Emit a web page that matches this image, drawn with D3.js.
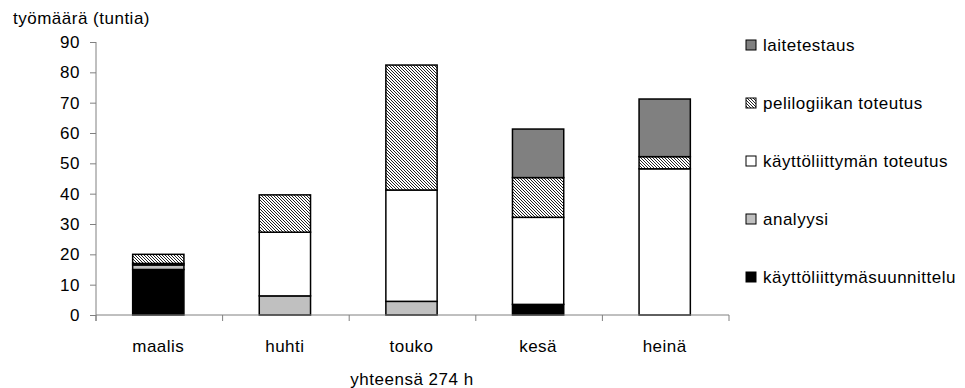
<!DOCTYPE html>
<html><head><meta charset="utf-8">
<script src="https://cdn.jsdelivr.net/npm/d3@7"></script>
<style>
body{margin:0;background:#fff;}
text{font-family:"Liberation Sans",Arial,sans-serif;font-size:17px;fill:#000;letter-spacing:0.5px;}
</style></head>
<body><svg id="c" width="965" height="388"></svg>
<script>
const categories = ["maalis","huhti","touko","kesä","heinä"];
const seriesNames = ["käyttöliittymäsuunnittelu","analyysi","käyttöliittymän toteutus","pelilogiikan toteutus","laitetestaus"];
const kayttoliittymasuunnittelu = [15, 0, 0, 3.5, 0];
const analyysi = [1.5, 6.3, 4.5, 0, 0];
const kayttoliittymanToteutus = [0.5, 21, 36.7, 28.7, 48.2];
const pelilogiikanToteutus = [3, 12.3, 41.2, 13.1, 4];
const laitetestaus = [0, 0, 0, 16, 19];
const yTicks = [0,10,20,30,40,50,60,70,80,90];
const yTitle = "työmäärä (tuntia)";
const xTitle = "yhteensä 274 h";

const seriesValues = [kayttoliittymasuunnittelu, analyysi, kayttoliittymanToteutus, pelilogiikanToteutus, laitetestaus];
const fills = ["#000000","#c0c0c0","#ffffff","url(#hatch)","#808080"];

const svg = d3.select("#c");
const defs = svg.append("defs");
const pat = defs.append("pattern").attr("id","hatch").attr("patternUnits","userSpaceOnUse")
  .attr("width",3).attr("height",3);
pat.append("rect").attr("width",3).attr("height",3).attr("fill","#fff");
pat.append("path").attr("d","M-1,-1 L4,4 M-1,2 L1,4 M2,-1 L4,1").attr("stroke","#222").attr("stroke-width",1);

const x = d3.scaleBand().domain(categories).range([96,729]).padding(0);
const y = d3.scaleLinear().domain([0,90]).range([315,42]);

// stack
const table = categories.map((c,i)=>{const o={cat:c}; seriesNames.forEach((s,j)=>o[s]=seriesValues[j][i]); return o;});
const stacked = d3.stack().keys(seriesNames)(table);

const barW = x.bandwidth()*0.405;
stacked.forEach((layer,j)=>{
  svg.append("g").selectAll("rect").data(layer.filter(d=>d[1]-d[0]>0)).join("rect")
    .attr("x",d=>x(d.data.cat)+x.bandwidth()/2-barW/2-1)
    .attr("width",barW)
    .attr("y",d=>y(d[1]))
    .attr("height",d=>y(d[0])-y(d[1]))
    .attr("fill",fills[j])
    .attr("stroke","#000").attr("stroke-width",1.5);
});

// y axis
const ya = svg.append("g").attr("transform","translate(96,0)")
  .call(d3.axisLeft(y).tickValues(yTicks).tickSize(6).tickPadding(10));
ya.select(".domain").attr("stroke","#808080").attr("d","M0,42V321");
ya.selectAll(".tick line").attr("stroke","#808080");
ya.selectAll(".tick text").style("font-size","17px").attr("fill","#000");

// x axis
const xa = svg.append("g").attr("transform","translate(0,315)");
xa.append("line").attr("x1",96).attr("x2",729).attr("y1",0).attr("y2",0).attr("stroke","#808080");
const bounds = categories.map(c=>x(c)+x.bandwidth()).concat([x(categories[0])]);
xa.selectAll("line.t").data(bounds).join("line").attr("class","t")
  .attr("x1",d=>d).attr("x2",d=>d).attr("y1",0).attr("y2",6).attr("stroke","#808080");
xa.selectAll("text").data(categories).join("text")
  .attr("x",d=>x(d)+x.bandwidth()/2-1).attr("y",31).attr("dy","0.35em").attr("text-anchor","middle").text(d=>d);

svg.append("text").attr("x",13).attr("y",18).attr("dy","0.35em").text(yTitle);
svg.append("text").attr("x",412).attr("y",379).attr("dy","0.35em").attr("text-anchor","middle").text(xTitle);

// legend (top to bottom reversed order)
const legendOrder = seriesNames.map((s,j)=>({s,f:fills[j]})).reverse();
const leg = svg.append("g").selectAll("g").data(legendOrder).join("g")
  .attr("transform",(d,i)=>`translate(746,${45+i*58})`);
leg.append("rect").attr("x",0).attr("y",-5).attr("width",10).attr("height",10)
  .attr("fill",d=>d.f).attr("stroke","#000").attr("stroke-width",1);
leg.append("text").attr("x",17).attr("y",0).attr("dy","0.35em").text(d=>d.s);
</script></body></html>
